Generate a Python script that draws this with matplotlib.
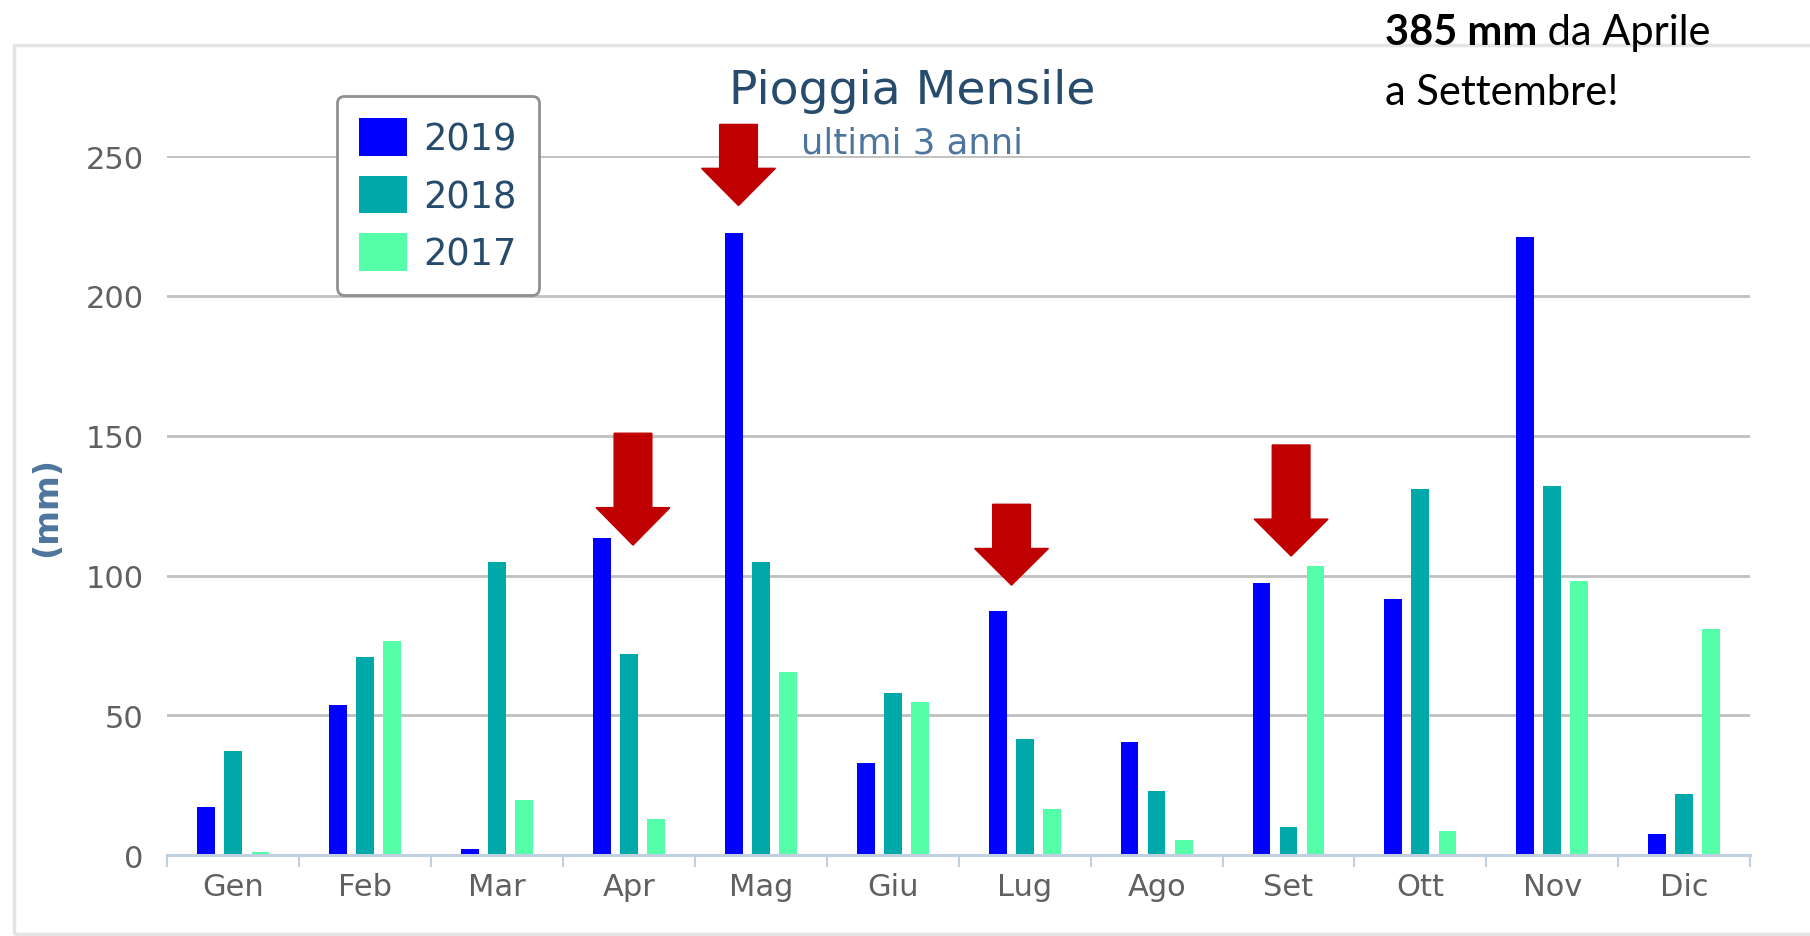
import matplotlib.pyplot as plt
from matplotlib.patches import Polygon, Rectangle, FancyBboxPatch
from matplotlib.legend_handler import HandlerPatch
import numpy as np

# monthly rain (mm)
months = ['Gen', 'Feb', 'Mar', 'Apr', 'Mag', 'Giu', 'Lug', 'Ago', 'Set', 'Ott', 'Nov', 'Dic']
rain_2019 = [17.3, 53.6, 2.2, 113.5, 222.4, 32.9, 87.4, 40.5, 97.2, 91.7, 221.0, 7.7]
rain_2018 = [37.2, 70.9, 104.7, 72.0, 104.7, 57.9, 41.6, 23.1, 10.0, 130.8, 131.9, 21.9]
rain_2017 = [1.1, 76.5, 19.7, 13.1, 65.5, 54.7, 16.4, 5.4, 103.6, 8.8, 98.1, 80.8]
years = ['2019', '2018', '2017']
yticks = [0, 50, 100, 150, 200, 250]

# red arrows: x (category units), top, base of head, tip (mm)
arrows = [(3.03, 150.9, 124.3, 110.9),
          (3.83, 261.3, 245.6, 232.3),
          (5.90, 125.5, 109.7, 96.6),
          (8.02, 146.7, 120.2, 107.0)]

colors = ['#0000ff', '#00a9a9', '#55ffa9']
x = np.arange(len(months))

fig = plt.figure(figsize=(18.1, 9.37), dpi=100)
ax = fig.add_axes([0.0925, 0.0861, 0.8744, 0.7463])

# outer frame of the chart
fig.patches.append(Rectangle((14 / 1810, 2 / 937), 1.0, (935 - 46) / 937, transform=fig.transFigure,
                             fill=False, edgecolor='#e4e4e4', lw=2.5))

offs = [-0.205, 0.0, 0.205]
for series, off, c, lab in zip([rain_2019, rain_2018, rain_2017], offs, colors, years):
    ax.bar(x + off, series, width=0.135, color=c, label=lab, zorder=3)

for xc, top, head, tip in arrows:
    sw, hw = 0.143, 0.28
    pts = [(xc - sw, top), (xc + sw, top), (xc + sw, head), (xc + hw, head),
           (xc, tip), (xc - hw, head), (xc - sw, head)]
    ax.add_patch(Polygon(pts, closed=True, color='#c00000', zorder=5, clip_on=False))

ax.set_xlim(-0.5, 11.5)
ax.set_ylim(0, 250)
ax.set_yticks(yticks)
ax.yaxis.grid(True, color='#c0c0c0', lw=2.0, zorder=0)
ax.set_axisbelow(True)
for s in ['top', 'right', 'left']:
    ax.spines[s].set_visible(False)
ax.spines['bottom'].set_color('#c0d0e0')
ax.spines['bottom'].set_linewidth(2.2)
ax.spines['bottom'].set_zorder(4)

ax.set_xticks(x)
ax.set_xticklabels(months)
ax.set_xticks(np.arange(-0.5, 12, 1), minor=True)
ax.tick_params(axis='x', which='major', length=0, pad=12, labelsize=22, labelcolor='#606060')
ax.tick_params(axis='x', which='minor', length=8.5, width=1.5, color='#c0d0e0')
ax.tick_params(axis='y', length=0, pad=17, labelsize=22, labelcolor='#606060')

ax.set_ylabel('(mm)', fontsize=24, fontweight='bold', color='#4d759e', labelpad=16)

fig.text(0.504, 1 - 92 / 937, 'Pioggia Mensile', ha='center', va='center', fontsize=34, color='#274b6d')
fig.text(0.504, 1 - 143 / 937, 'ultimi 3 anni', ha='center', va='center', fontsize=25.5, color='#4d759e')


# rounded legend swatches
def round_swatch(legend, orig, xdescent, ydescent, width, height, fontsize):
    return FancyBboxPatch((-xdescent, -ydescent), width, height,
                          boxstyle='round,pad=0,rounding_size=4')


leg = ax.legend(loc='upper left', bbox_to_anchor=(337 / 1810, 1 - 97 / 937), bbox_transform=fig.transFigure,
                fontsize=26.5, frameon=True, fancybox=True, edgecolor='#909090', framealpha=1,
                handlelength=1.3, handleheight=1.2, labelspacing=0.5, borderpad=0.6,
                handletextpad=0.45, borderaxespad=0,
                handler_map={Rectangle: HandlerPatch(patch_func=round_swatch)})
leg.get_frame().set_linewidth(2)
for t in leg.get_texts():
    t.set_color('#274b6d')

t1 = fig.text(1385 / 1810, 1 - 45 / 937, '385 mm', fontsize=30, fontweight='bold', family='Lato',
              ha='left', va='baseline')
fig.canvas.draw()
bb = t1.get_window_extent()
fig.text(bb.x1 / fig.bbox.width, 1 - 45 / 937, ' da Aprile', fontsize=30, family='Lato',
         ha='left', va='baseline')
fig.text(1385 / 1810, 1 - 105 / 937, 'a Settembre!', fontsize=30, family='Lato', ha='left', va='baseline')

fig.savefig('out.png', dpi=100)
